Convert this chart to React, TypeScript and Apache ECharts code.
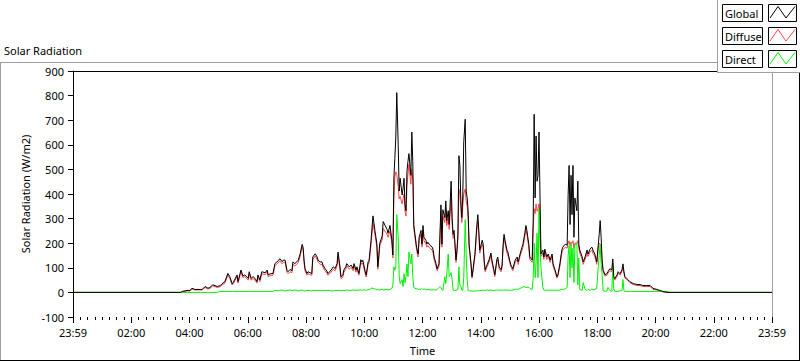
import React, { useEffect, useRef } from "react";
import * as echarts from "echarts";

// time of day in minutes, axis runs 23:59 (0) -> 23:59 (1440)
const times = [
  // night + early morning
  0, 222, 225, 235, 241, 245, 251, 262, 266, 272, 278, 282, 288, 297, 303, 307, 313, 319, 323, 328, 330, 338, 340, 346, 350, 354, 361, 363, 367, 371, 375, 379, 381, 385, 389, 396, 400, 402, 406, 410, 412, 416, 420, 424,
  // morning
  426, 431, 433, 437, 441, 443, 447, 451, 453, 457, 461, 464, 468, 472, 474, 476, 478, 482, 484, 488, 492, 494, 499, 503, 505, 509, 513, 515, 519, 523, 525, 529, 534, 536, 540, 544, 546, 550, 552, 556, 558, 562, 564, 569, 573, 577, 579, 583, 585, 589, 593, 595, 597, 602, 604, 608, 610, 614, 616, 618, 622, 626, 628, 630,
  // late morning / noon
  632, 637, 639, 647, 649, 653, 657, 659, 661, 663, 665, 667, 670, 672, 674, 678, 680, 682, 684, 686, 688, 690, 692, 696, 698, 700, 702, 707, 709, 711, 713, 717, 719, 721, 723, 727, 729, 731, 735, 740, 742, 744, 748, 750, 754, 756, 758, 760, 762, 766, 768, 770, 773, 775, 779, 781, 783, 785, 787, 789, 791, 793, 795, 797, 799, 801, 803, 805, 808, 810, 812, 814, 816, 820, 822, 824, 828, 832, 834, 836,
  // afternoon
  838, 843, 845, 847, 849, 853, 857, 861, 863, 867, 869, 873, 875, 878, 882, 884, 886, 888, 890, 894, 896, 898, 902, 904, 906, 911, 915, 917, 921, 925, 927, 931, 933, 935, 939, 941, 946, 948, 950, 952, 954, 956, 958, 960, 962, 964, 968, 970, 972, 976, 979, 983, 987, 989, 993, 997, 999, 1003, 1007, 1009, 1014, 1018, 1020, 1022, 1024, 1026, 1028, 1030, 1032, 1034, 1038, 1040, 1042,
  // evening + night
  1044, 1049, 1051, 1055, 1059, 1061, 1065, 1069, 1071, 1075, 1079, 1082, 1084, 1086, 1088, 1090, 1092, 1096, 1100, 1102, 1106, 1110, 1112, 1114, 1116, 1121, 1123, 1127, 1131, 1133, 1135, 1137, 1141, 1143, 1147, 1154, 1162, 1168, 1174, 1182, 1189, 1195, 1203, 1209, 1215, 1224, 1230, 1440,
];

const globalRad = [
  0, 0, 4, 8, 8, 17, 12, 12, 12, 24, 17, 20, 31, 24, 27, 35, 44, 77, 64, 35, 40, 71, 44, 91, 67, 71, 57, 84, 57, 64, 57, 44, 71, 51, 84, 80, 91, 71, 75, 77, 77, 117, 124, 131,
  137, 125, 131, 131, 88, 84, 93, 88, 124, 117, 124, 131, 157, 195, 184, 131, 97, 77, 84, 80, 77, 144, 157, 144, 131, 124, 124, 111, 97, 87, 77, 84, 97, 104, 97, 117, 164, 104, 64, 71, 91, 104, 117, 104, 111, 97, 117, 91, 104, 77, 133, 124, 131, 84, 71, 124, 131, 211, 264, 311, 251, 197, 104, 151,
  200, 230, 288, 256, 240, 272, 212, 152, 464, 544, 632, 812, 596, 412, 464, 396, 424, 464, 356, 332, 492, 532, 564, 476, 652, 532, 276, 196, 172, 156, 224, 252, 196, 272, 224, 212, 196, 204, 192, 184, 172, 144, 116, 96, 116, 236, 356, 196, 336, 304, 372, 292, 332, 276, 452, 304, 236, 252, 196, 132, 172, 236, 556, 516, 372, 304, 396, 612, 704, 412, 384, 332, 196, 116, 64, 92, 156, 276, 316, 252,
  172, 212, 196, 132, 92, 112, 132, 160, 132, 92, 72, 132, 144, 104, 92, 112, 192, 236, 212, 172, 164, 144, 112, 104, 96, 132, 144, 124, 156, 184, 196, 244, 272, 252, 196, 144, 132, 284, 724, 384, 636, 452, 476, 652, 396, 156, 172, 144, 176, 144, 156, 132, 156, 116, 92, 64, 72, 116, 172, 184, 196, 192, 396, 516, 276, 476, 316, 516, 224, 384, 332, 452, 196,
  172, 144, 124, 144, 172, 156, 176, 184, 172, 156, 124, 192, 236, 292, 224, 132, 92, 72, 76, 84, 96, 92, 136, 64, 56, 72, 84, 76, 92, 116, 84, 64, 56, 52, 44, 36, 32, 32, 28, 28, 28, 16, 12, 8, 4, 0, 0, 0,
];

const diffuseRad = [
  0, 0, 2, 6, 6, 14, 10, 10, 10, 20, 14, 16, 27, 20, 23, 30, 38, 70, 58, 30, 35, 64, 38, 84, 60, 64, 50, 76, 50, 56, 50, 38, 64, 44, 76, 72, 84, 64, 68, 70, 70, 108, 116, 122,
  128, 116, 122, 122, 80, 76, 84, 80, 114, 108, 114, 122, 148, 184, 174, 122, 88, 70, 76, 72, 70, 134, 148, 134, 122, 114, 114, 102, 88, 78, 70, 76, 88, 94, 88, 108, 150, 94, 56, 62, 82, 94, 108, 94, 102, 88, 106, 82, 94, 70, 122, 114, 120, 76, 62, 114, 120, 196, 240, 280, 236, 184, 94, 140,
  190, 215, 260, 236, 224, 250, 196, 140, 380, 470, 490, 480, 430, 380, 390, 360, 380, 400, 330, 310, 430, 480, 520, 440, 500, 460, 260, 184, 160, 144, 210, 236, 184, 252, 210, 198, 184, 190, 180, 172, 160, 134, 106, 88, 106, 220, 330, 184, 310, 284, 340, 272, 300, 256, 380, 284, 220, 236, 184, 122, 160, 220, 420, 400, 340, 284, 350, 400, 420, 370, 350, 300, 184, 108, 58, 84, 146, 256, 290, 236,
  160, 196, 184, 122, 84, 104, 122, 150, 122, 84, 64, 122, 134, 96, 84, 104, 180, 222, 200, 160, 152, 134, 104, 96, 88, 122, 134, 114, 146, 172, 184, 230, 254, 236, 184, 134, 122, 260, 340, 320, 360, 330, 340, 360, 320, 146, 160, 134, 164, 134, 146, 122, 146, 106, 84, 58, 66, 106, 160, 172, 184, 180, 200, 210, 190, 205, 200, 210, 180, 200, 200, 210, 180,
  160, 134, 114, 134, 160, 146, 164, 172, 160, 146, 114, 180, 200, 196, 190, 122, 84, 66, 70, 78, 88, 84, 120, 58, 50, 66, 78, 70, 86, 100, 78, 58, 52, 48, 40, 32, 28, 28, 24, 24, 24, 12, 10, 6, 2, 0, 0, 0,
];

const directRad = [
  0, 0, 0, 0, 0, 0, 0, 0, 0, 0, 0, 0, 0, 0, 4, 4, 4, 4, 4, 4, 4, 4, 4, 4, 4, 4, 4, 4, 4, 4, 4, 4, 4, 4, 4, 4, 4, 4, 4, 4, 4, 8, 8, 8,
  8, 10, 8, 6, 8, 8, 10, 8, 8, 10, 8, 6, 8, 10, 8, 6, 6, 8, 8, 8, 6, 8, 8, 8, 8, 8, 6, 8, 8, 8, 8, 8, 6, 6, 8, 8, 8, 8, 6, 8, 8, 8, 10, 8, 8, 10, 8, 10, 8, 10, 10, 8, 10, 10, 8, 12, 10, 16, 18, 16, 14, 10, 12, 10,
  10, 12, 10, 12, 10, 12, 16, 30, 104, 90, 104, 316, 224, 64, 36, 52, 24, 76, 40, 64, 116, 64, 164, 116, 156, 64, 20, 14, 16, 12, 14, 12, 16, 12, 14, 12, 10, 12, 10, 10, 12, 10, 10, 12, 20, 24, 20, 12, 8, 64, 36, 76, 156, 64, 80, 52, 10, 8, 8, 8, 10, 12, 104, 30, 24, 10, 8, 60, 296, 156, 52, 8, 6, 6, 6, 5, 6, 6, 6, 6,
  8, 8, 10, 8, 8, 10, 8, 10, 8, 8, 8, 10, 10, 8, 10, 8, 10, 8, 10, 10, 8, 10, 8, 8, 10, 12, 14, 12, 16, 20, 22, 24, 18, 22, 20, 16, 12, 60, 200, 60, 120, 240, 60, 340, 200, 100, 20, 10, 8, 10, 8, 10, 8, 10, 8, 10, 8, 10, 12, 12, 14, 20, 150, 190, 60, 200, 100, 180, 40, 190, 200, 30, 140,
  12, 8, 40, 12, 8, 12, 8, 14, 10, 12, 16, 104, 150, 192, 116, 76, 8, 4, 6, 20, 8, 4, 104, 16, 4, 4, 4, 6, 8, 52, 6, 4, 4, 4, 4, 4, 4, 4, 4, 4, 4, 4, 4, 4, 4, 4, 0, 0,
];

const seriesNames = ["Global", "Diffuse", "Direct"];
const seriesColors = ["#000000", "#ff4545", "#00f000"];
const yTicks = { min: -100, max: 900, step: 100 };
const xTicks = { min: 0, max: 1440, step: 120 };

const FONT = "'Noto Sans', 'Segoe UI', Tahoma, sans-serif";
const FS = 11;

function fmtTime(v: number) {
  if (v === xTicks.min || v === xTicks.max) return "23:59";
  const h = Math.round(v / 60);
  return (h < 10 ? "0" : "") + h + ":00";
}

export default function App() {
  const ref = useRef<HTMLDivElement>(null);
  useEffect(() => {
    const chart = echarts.init(ref.current as HTMLDivElement, null, { renderer: "svg" });
    const mk = (vals: number[]) => times.map((t, i) => [t, vals[i]]);
    const txt = { fontFamily: FONT, fontSize: FS, color: "#000" };

    const legendEls: any[] = [];
    seriesNames.forEach((name, i) => {
      const top = 4 + i * 23;
      legendEls.push(
        { type: "rect", z: 101, shape: { x: 722.5, y: top + 0.5, width: 40, height: 17 }, style: { fill: "#fff", stroke: "#000", lineWidth: 1 } },
        { type: "text", z: 102, x: 725, y: top + 9, style: { text: name, fontFamily: FONT, fontSize: FS, fill: "#000", verticalAlign: "middle", align: "left" } },
        { type: "rect", z: 101, shape: { x: 768.5, y: top + 0.5, width: 28, height: 17 }, style: { fill: "#fff", stroke: "#000", lineWidth: 1 } },
        { type: "polyline", z: 102, shape: { points: [[770, top + 14], [778, top + 2.5], [786, top + 14], [795, top + 2.5]] }, style: { stroke: seriesColors[i], lineWidth: 1, fill: "none" } }
      );
    });

    chart.setOption({
      animation: false,
      backgroundColor: "#ffffff",
      title: {
        text: "Solar Radiation",
        left: 4,
        top: 45,
        padding: 0,
        textStyle: { ...txt, fontWeight: "normal" },
      },
      grid: { left: 73, right: 28, top: 71, bottom: 39, containLabel: false },
      xAxis: [
        {
          type: "value",
          min: xTicks.min,
          max: xTicks.max,
          interval: xTicks.step,
          position: "bottom",
          name: "Time",
          nameLocation: "middle",
          nameGap: 28,
          nameTextStyle: txt,
          axisLine: { show: false, onZero: false },
          axisTick: { show: true, length: 6, lineStyle: { color: "#000" } },
          minorTick: { show: true, splitNumber: 8, length: 3, lineStyle: { color: "#000" } },
          axisLabel: { ...txt, margin: 10, formatter: fmtTime },
          splitLine: { show: false },
          minorSplitLine: { show: false },
        },
        {
          type: "value",
          min: xTicks.min,
          max: xTicks.max,
          position: "top",
          axisLine: { show: true, onZero: false, lineStyle: { color: "#000" } },
          axisTick: { show: false },
          axisLabel: { show: false },
          splitLine: { show: false },
        },
      ],
      yAxis: [
        {
          type: "value",
          min: yTicks.min,
          max: yTicks.max,
          interval: yTicks.step,
          name: "Solar Radiation (W/m2)",
          nameLocation: "middle",
          nameGap: 24,
          nameTextStyle: txt,
          axisLine: { show: true, onZero: false, lineStyle: { color: "#000" } },
          axisTick: { show: true, length: 5, lineStyle: { color: "#000" } },
          axisLabel: { ...txt, margin: 9 },
          splitLine: { show: false },
        },
        {
          type: "value",
          min: yTicks.min,
          max: yTicks.max,
          position: "right",
          axisLine: { show: true, onZero: false, lineStyle: { color: "#a0a0a0" } },
          axisTick: { show: false },
          axisLabel: { show: false },
          splitLine: { show: false },
        },
      ],
      series: [
        { name: seriesNames[1], type: "line", z: 2, data: mk(diffuseRad), showSymbol: false, lineStyle: { width: 1, color: seriesColors[1] }, itemStyle: { color: seriesColors[1] } },
        { name: seriesNames[2], type: "line", z: 3, data: mk(directRad), showSymbol: false, lineStyle: { width: 1, color: seriesColors[2] }, itemStyle: { color: seriesColors[2] } },
        { name: seriesNames[0], type: "line", z: 4, data: mk(globalRad), showSymbol: false, lineStyle: { width: 1, color: seriesColors[0] }, itemStyle: { color: seriesColors[0] } },
      ],
      graphic: [
        { type: "line", z: 100, shape: { x1: 0, y1: 62.5, x2: 717, y2: 62.5 }, style: { stroke: "#a0a0a0", lineWidth: 1 } },
        { type: "line", z: 100, shape: { x1: 0.5, y1: 62, x2: 0.5, y2: 361 }, style: { stroke: "#a0a0a0", lineWidth: 1 } },
        { type: "line", z: 100, shape: { x1: 0, y1: 360.5, x2: 800, y2: 360.5 }, style: { stroke: "#000", lineWidth: 1 } },
        { type: "line", z: 100, shape: { x1: 799.5, y1: 72, x2: 799.5, y2: 361 }, style: { stroke: "#000", lineWidth: 1 } },
        { type: "rect", z: 100, shape: { x: 717, y: 0, width: 83, height: 72 }, style: { fill: "#fff" } },
        { type: "line", z: 100, shape: { x1: 717.5, y1: 0, x2: 717.5, y2: 72.5 }, style: { stroke: "#a0a0a0", lineWidth: 1 } },
        { type: "line", z: 100, shape: { x1: 717, y1: 72.5, x2: 800, y2: 72.5 }, style: { stroke: "#a0a0a0", lineWidth: 1 } },
        ...legendEls,
      ],
    });
    return () => chart.dispose();
  }, []);
  return <div ref={ref} style={{ position: "fixed", left: 0, top: 0, width: 800, height: 361 }} />;
}
